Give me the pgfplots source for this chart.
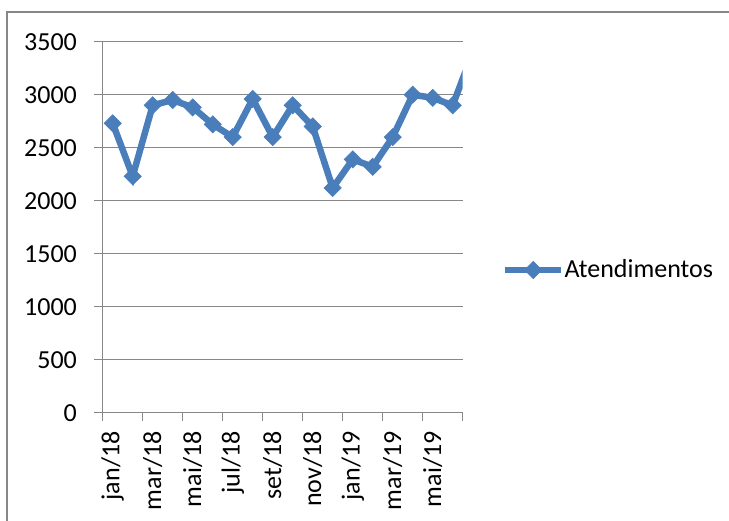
\documentclass[border=0pt]{standalone}
\usepackage{pgfplots}
\pgfplotsset{compat=1.18}
\usepackage{fontspec}
\setmainfont{Carlito}
\definecolor{serie}{HTML}{4A7EBB}
\definecolor{grade}{HTML}{878787}
\begin{document}
\begin{tikzpicture}[x=1pt,y=1pt]
\useasboundingbox (0,0) rectangle (364.5,260);
\draw[grade, line width=1pt] (3.25,-5) -- (3.25,254) -- (370,254);
\begin{axis}[
  at={(51.35pt,53.65pt)}, anchor=south west,
  scale only axis, width=180pt, height=185.5pt,
  xmin=-0.5, xmax=17.5, ymin=0, ymax=3500,
  axis lines*=left,
  axis line style={grade, line width=0.75pt},
  ytick={0,500,...,3500},
  ymajorgrids, major grid style={grade, line width=0.75pt},
  xtick={0,2,...,16},
  xticklabels={jan/18,mar/18,mai/18,jul/18,set/18,nov/18,jan/19,mar/19,mai/19},
  minor xtick={-0.5,1.5,...,17.5},
  tick align=outside,
  major tick length=4.2pt, minor tick length=4pt,
  tick style={grade, line width=0.75pt},
  major x tick style={draw=none},
  /pgf/number format/assume math mode=true,
  /pgf/number format/set thousands separator={},
  ticklabel style={font=\fontsize{13}{15}\selectfont},
  yticklabel style={anchor=east, inner sep=0pt, xshift=-8.5pt},
  xticklabel style={yshift=-5pt, rotate=90, anchor=east, inner sep=0pt},
  legend style={at={(1.1092,0.3846)}, anchor=west, draw=none, fill=none,
    inner sep=0pt, outer sep=0pt, font=\fontsize{13}{15}\selectfont,
    nodes={inner sep=0pt}},
  legend cell align=left,
  legend image code/.code={\draw[mark repeat=2,mark phase=2,#1] plot coordinates {(0pt,0pt) (14pt,0pt) (28pt,0pt)};},
]
\addplot[serie, line width=3.25pt, mark=square*, mark size=3pt,
  mark options={rotate=45, line width=0.4pt, fill=serie}] coordinates {
(0,2730) (1,2230) (2,2900) (3,2950) (4,2880) (5,2720) (6,2600) (7,2960)
(8,2600) (9,2900) (10,2700) (11,2120) (12,2390) (13,2320) (14,2600)
(15,3000) (16,2970) (17,2900) (18,3400)};
\addlegendentry{Atendimentos}
\end{axis}
\end{tikzpicture}
\end{document}
